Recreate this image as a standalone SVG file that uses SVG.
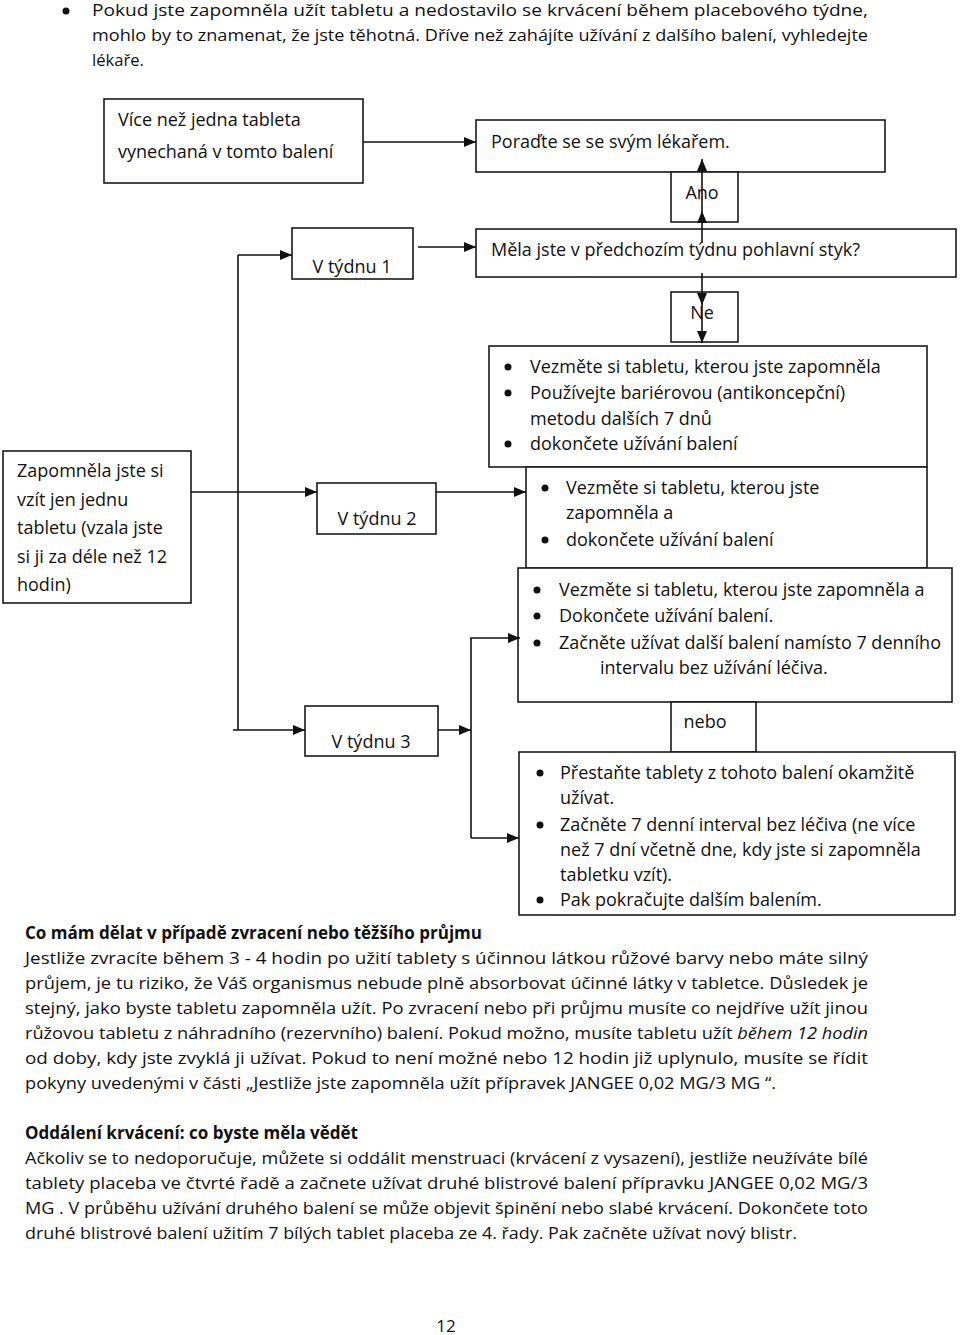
<svg xmlns="http://www.w3.org/2000/svg" width="960" height="1335" viewBox="0 0 960 1335">
<style>
.bx{fill:#fff;stroke:#1a1a1a;stroke-width:1.6}
.t{font-family:"Open Sans","Noto Sans",sans-serif;font-size:18px;fill:#111}
.c{text-anchor:middle}
.p{font-family:"Open Sans","Noto Sans",sans-serif;font-size:17px;fill:#111}
.b{font-weight:bold}
.ln{fill:none;stroke:#111;stroke-width:1.6}
.dot{fill:#111}
</style>
<defs>
<marker id="ah" viewBox="0 0 12 10" refX="12" refY="5" markerWidth="12" markerHeight="10" markerUnits="userSpaceOnUse" orient="auto">
<path d="M0,0 L12,5 L0,10 Z" fill="#111"/>
</marker>
</defs>

<g id="intro">
<circle class="dot" cx="66" cy="11" r="3.5"/>
<text class="p" x="92" y="16" textLength="776" lengthAdjust="spacingAndGlyphs">Pokud jste zapomněla užít tabletu a nedostavilo se krvácení během placebového týdne,</text>
<text class="p" x="92" y="41" textLength="776" lengthAdjust="spacingAndGlyphs">mohlo by to znamenat, že jste těhotná. Dříve než zahájíte užívání z dalšího balení, vyhledejte</text>
<text class="p" x="92" y="66" textLength="52" lengthAdjust="spacingAndGlyphs">lékaře.</text>
</g>

<g id="n-vice">
<rect class="bx" x="104" y="99" width="259" height="84"/>
<text class="t" x="118" y="126">Více než jedna tableta</text>
<text class="t" x="118" y="158">vynechaná v tomto balení</text>
</g>

<g id="n-poradte">
<rect class="bx" x="476" y="120" width="409" height="52"/>
<text class="t" x="491" y="148">Poraďte se se svým lékařem.</text>
</g>

<g id="n-ano">
<rect class="bx" x="671" y="172" width="67" height="50"/>
<text class="t c" x="702" y="199">Ano</text>
</g>

<g id="n-tyden1">
<rect class="bx" x="292" y="228" width="121" height="51"/>
<text class="t c" x="352" y="273">V týdnu 1</text>
</g>

<g id="n-mela">
<rect class="bx" x="476" y="229" width="480" height="48"/>
<text class="t" x="491" y="256">Měla jste v předchozím týdnu pohlavní styk?</text>
</g>

<g id="n-ne">
<rect class="bx" x="671" y="292" width="67" height="50"/>
<text class="t c" x="702" y="319">Ne</text>
</g>

<g id="n-boxA">
<rect class="bx" x="489" y="346" width="438" height="121"/>
<circle class="dot" cx="508" cy="367" r="3.5"/>
<circle class="dot" cx="508" cy="393" r="3.5"/>
<circle class="dot" cx="508" cy="444" r="3.5"/>
<text class="t" x="530" y="373">Vezměte si tabletu, kterou jste zapomněla</text>
<text class="t" x="530" y="399">Používejte bariérovou (antikoncepční)</text>
<text class="t" x="530" y="425">metodu dalších 7 dnů</text>
<text class="t" x="530" y="450">dokončete užívání balení</text>
</g>

<g id="n-zapomnela">
<rect class="bx" x="3" y="451" width="188" height="152"/>
<text class="t" x="17" y="477">Zapomněla jste si</text>
<text class="t" x="17" y="506">vzít jen jednu</text>
<text class="t" x="17" y="534">tabletu (vzala jste</text>
<text class="t" x="17" y="563">si ji za déle než 12</text>
<text class="t" x="17" y="591">hodin)</text>
</g>

<g id="n-tyden2">
<rect class="bx" x="317" y="483" width="119" height="51"/>
<text class="t c" x="377" y="525">V týdnu 2</text>
</g>

<g id="n-boxB">
<rect class="bx" x="526" y="467" width="401" height="101"/>
<circle class="dot" cx="545" cy="488" r="3.5"/>
<circle class="dot" cx="545" cy="540" r="3.5"/>
<text class="t" x="566" y="494">Vezměte si tabletu, kterou jste</text>
<text class="t" x="566" y="519">zapomněla a</text>
<text class="t" x="566" y="546">dokončete užívání balení</text>
</g>

<g id="n-boxC">
<rect class="bx" x="518" y="568" width="434" height="134"/>
<circle class="dot" cx="537" cy="590" r="3.5"/>
<circle class="dot" cx="537" cy="616" r="3.5"/>
<circle class="dot" cx="537" cy="643" r="3.5"/>
<text class="t" x="559" y="596">Vezměte si tabletu, kterou jste zapomněla a</text>
<text class="t" x="559" y="622">Dokončete užívání balení.</text>
<text class="t" x="559" y="649">Začněte užívat další balení namísto 7 denního</text>
<text class="t" x="600" y="674">intervalu bez užívání léčiva.</text>
</g>

<g id="n-nebo">
<rect class="bx" x="671" y="702" width="85" height="50"/>
<text class="t c" x="705" y="728">nebo</text>
</g>

<g id="n-tyden3">
<rect class="bx" x="305" y="706" width="133" height="50"/>
<text class="t c" x="371" y="748">V týdnu 3</text>
</g>

<g id="n-boxD">
<rect class="bx" x="519" y="752" width="436" height="163"/>
<circle class="dot" cx="540" cy="773" r="3.5"/>
<circle class="dot" cx="540" cy="825" r="3.5"/>
<circle class="dot" cx="540" cy="900" r="3.5"/>
<text class="t" x="560" y="779">Přestaňte tablety z tohoto balení okamžitě</text>
<text class="t" x="560" y="804">užívat.</text>
<text class="t" x="560" y="831">Začněte 7 denní interval bez léčiva (ne více</text>
<text class="t" x="560" y="856">než 7 dní včetně dne, kdy jste si zapomněla</text>
<text class="t" x="560" y="881">tabletku vzít).</text>
<text class="t" x="560" y="906">Pak pokračujte dalším balením.</text>
</g>

<g id="connectors">
<path class="ln" d="M363,142 H476" marker-end="url(#ah)"/>
<path class="ln" d="M238,255 V730"/>
<path class="ln" d="M238,255 H292" marker-end="url(#ah)"/>
<path class="ln" d="M233,730 H305" marker-end="url(#ah)"/>
<path class="ln" d="M191,492 H317" marker-end="url(#ah)"/>
<path class="ln" d="M418,247 H476" marker-end="url(#ah)"/>
<path class="ln" d="M436,492 H526" marker-end="url(#ah)"/>
<path class="ln" d="M702,243 V211" marker-end="url(#ah)"/>
<path class="ln" d="M702,211 V159" marker-end="url(#ah)"/>
<path class="ln" d="M702,273 V305" marker-end="url(#ah)"/>
<path class="ln" d="M702,305 V343" marker-end="url(#ah)"/>
<path class="ln" d="M438,730 H471" marker-end="url(#ah)"/>
<path class="ln" d="M471,838 V638 H520" marker-end="url(#ah)"/>
<path class="ln" d="M471,838 H519" marker-end="url(#ah)"/>
</g>

<g id="section-zvraceni">
<text class="p b" x="25" y="939" textLength="457" lengthAdjust="spacingAndGlyphs">Co mám dělat v případě zvracení nebo těžšího průjmu</text>
<text class="p" x="25" y="964" textLength="843" lengthAdjust="spacingAndGlyphs">Jestliže zvracíte během 3 - 4 hodin po užití tablety s účinnou látkou růžové barvy nebo máte silný</text>
<text class="p" x="25" y="989" textLength="843" lengthAdjust="spacingAndGlyphs">průjem, je tu riziko, že Váš organismus nebude plně absorbovat účinné látky v tabletce. Důsledek je</text>
<text class="p" x="25" y="1014" textLength="843" lengthAdjust="spacingAndGlyphs">stejný, jako byste tabletu zapomněla užít. Po zvracení nebo při průjmu musíte co nejdříve užít jinou</text>
<text class="p" x="25" y="1039" textLength="843" lengthAdjust="spacingAndGlyphs">růžovou tabletu z náhradního (rezervního) balení. Pokud možno, musíte tabletu užít <tspan font-style="italic">během 12 hodin</tspan></text>
<text class="p" x="25" y="1064" textLength="843" lengthAdjust="spacingAndGlyphs">od doby, kdy jste zvyklá ji užívat. Pokud to není možné nebo 12 hodin již uplynulo, musíte se řídit</text>
<text class="p" x="25" y="1089" textLength="751" lengthAdjust="spacingAndGlyphs">pokyny uvedenými v části „Jestliže jste zapomněla užít přípravek JANGEE 0,02 MG/3 MG “.</text>
</g>

<g id="section-oddaleni">
<text class="p b" x="25" y="1139" textLength="333" lengthAdjust="spacingAndGlyphs">Oddálení krvácení: co byste měla vědět</text>
<text class="p" x="25" y="1164" textLength="843" lengthAdjust="spacingAndGlyphs">Ačkoliv se to nedoporučuje, můžete si oddálit menstruaci (krvácení z vysazení), jestliže neužíváte bílé</text>
<text class="p" x="25" y="1189" textLength="843" lengthAdjust="spacingAndGlyphs">tablety placeba ve čtvrté řadě a začnete užívat druhé blistrové balení přípravku JANGEE 0,02 MG/3</text>
<text class="p" x="25" y="1214" textLength="843" lengthAdjust="spacingAndGlyphs">MG . V průběhu užívání druhého balení se může objevit špinění nebo slabé krvácení. Dokončete toto</text>
<text class="p" x="25" y="1239" textLength="772" lengthAdjust="spacingAndGlyphs">druhé blistrové balení užitím 7 bílých tablet placeba ze 4. řady. Pak začněte užívat nový blistr.</text>
</g>

<text class="p" x="446" y="1332" text-anchor="middle">12</text>
</svg>
